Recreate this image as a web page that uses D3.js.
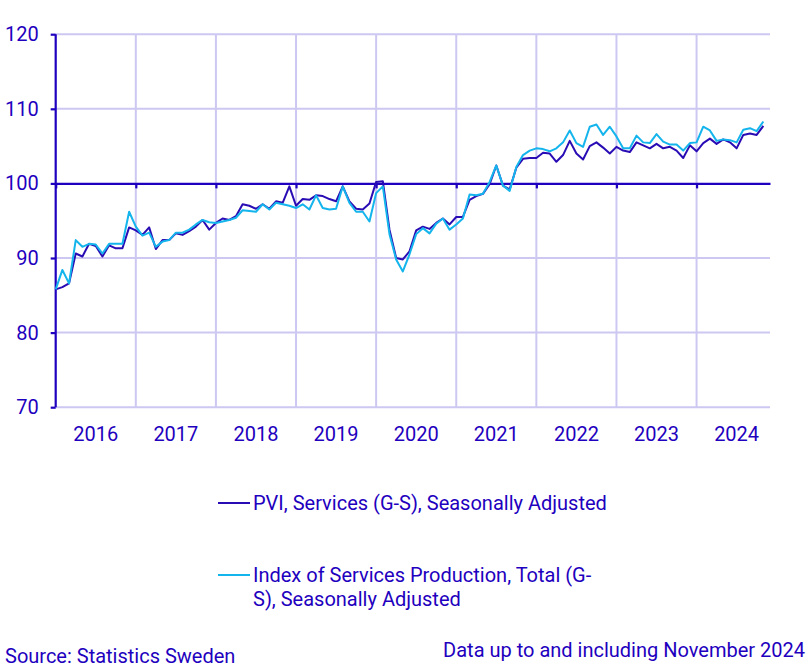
<!DOCTYPE html>
<html>
<head>
<meta charset="utf-8">
<script src="https://cdn.jsdelivr.net/npm/d3@7"></script>
<style>
  body { margin: 0; background: #fff; }
  svg text { font-family: Roboto, "Noto Sans", sans-serif; fill: #1e00be; }
</style>
</head>
<body>
<div id="chart"></div>
<script>
// DATA (monthly, Jan 2016 - Nov 2024)
// ---------------------------------------------------------------------------------------------------------------------------------
const years = ["2016", "2017", "2018", "2019", "2020", "2021", "2022", "2023", "2024"];
const yTicks = [70, 80, 90, 100, 110, 120];

const pviServices = [
  85.8, 86.1, 86.6, 90.6, 90.2, 91.9, 91.6, 90.2, 91.7, 91.3, 91.3, 94.1,
  93.7, 93.1, 94.1, 91.2, 92.4, 92.4, 93.3, 93.1, 93.6, 94.2, 95.1, 93.8,
  94.7, 95.3, 95.1, 95.6, 97.2, 97.0, 96.6, 97.2, 96.6, 97.6, 97.4, 99.6,
  97.0, 97.9, 97.8, 98.4, 98.3, 97.9, 97.6, 99.6, 97.6, 96.6, 96.5, 97.3,
  100.2, 100.3, 93.8, 90.0, 89.8, 90.9, 93.7, 94.2, 93.9, 94.7, 95.3, 94.5,
  95.5, 95.5, 97.8, 98.3, 98.6, 99.9, 102.4, 99.7, 99.2, 102.1, 103.3, 103.4,
  103.4, 104.1, 104.0, 102.9, 103.8, 105.7, 104.0, 103.2, 105.0, 105.5, 104.8, 104.0,
  104.9, 104.4, 104.2, 105.5, 105.1, 104.7, 105.3, 104.7, 104.9, 104.4, 103.4, 105.1,
  104.3, 105.4, 106.0, 105.3, 105.9, 105.5, 104.7, 106.5, 106.7, 106.5, 107.7
];

const ispTotal = [
  85.8, 88.4, 86.6, 92.4, 91.5, 91.9, 91.8, 90.6, 91.9, 91.9, 91.9, 96.2,
  94.2, 93.0, 93.4, 91.5, 92.2, 92.4, 93.4, 93.4, 93.8, 94.5, 95.1, 94.8,
  94.7, 94.9, 95.1, 95.4, 96.4, 96.3, 96.2, 97.2, 96.5, 97.4, 97.2, 97.0,
  96.7, 97.2, 96.5, 98.4, 96.7, 96.5, 96.6, 99.6, 97.4, 96.2, 96.2, 94.9,
  98.7, 99.6, 93.2, 89.8, 88.2, 90.5, 93.2, 94.0, 93.3, 94.6, 95.3, 93.8,
  94.5, 95.3, 98.5, 98.4, 98.6, 100.2, 102.4, 99.7, 99.0, 102.2, 103.8, 104.4,
  104.7, 104.6, 104.3, 104.7, 105.5, 107.1, 105.4, 104.9, 107.6, 107.9, 106.5, 107.6,
  106.3, 104.7, 104.7, 106.4, 105.5, 105.4, 106.6, 105.6, 105.2, 105.2, 104.4, 105.4,
  105.5, 107.6, 107.1, 105.7, 105.9, 105.8, 105.5, 107.2, 107.4, 107.0, 108.3
];

const seriesNames = [
  ["PVI, Services (G-S), Seasonally Adjusted"],
  ["Index of Services Production, Total (G-", "S), Seasonally Adjusted"]
];
const seriesColors = ["#2a0cb4", "#14b4ec"];

// SCALES
// ---------------------------------------------------------------------------------------------------------------------------------
const W = 810, H = 671;
const nMonths = years.length * 12;
const x = d3.scaleLinear([0, nMonths - 1], [55.7, 770]);
const y = d3.scaleLinear([70, 120], [407.2, 34.2]);

const svg = d3.select("#chart").append("svg")
  .attr("width", W)
  .attr("height", H);

// GRIDLINES
// ---------------------------------------------------------------------------------------------------------------------------------
const grid = svg.append("g");
grid.selectAll("line.h")
  .data(yTicks.filter(d => d !== 100))
  .enter().append("line")
  .attr("x1", x(0)).attr("x2", x.range()[1])
  .attr("y1", d => y(d)).attr("y2", d => y(d))
  .attr("stroke", "#cdc8f2")
  .attr("stroke-width", 2);

grid.selectAll("line.v")
  .data(d3.range(1, years.length))
  .enter().append("line")
  .attr("x1", d => x(d * 12)).attr("x2", d => x(d * 12))
  .attr("y1", y(120)).attr("y2", y(70))
  .attr("stroke", "#cdc8f2")
  .attr("stroke-width", 2);

// AXES
// ---------------------------------------------------------------------------------------------------------------------------------
const axisColor = "#1e00be";

// x axis drawn at 100, ticks pointing down at year boundaries
const xAxis = svg.append("g")
  .attr("transform", `translate(0,${y(100)})`)
  .call(d3.axisBottom(x)
    .tickValues(d3.range(0, nMonths, 12))
    .tickSizeInner(5)
    .tickSizeOuter(0)
    .tickFormat(""));
xAxis.select(".domain").attr("stroke", axisColor).attr("stroke-width", 2.2);
xAxis.selectAll(".tick line").attr("stroke", axisColor).attr("stroke-width", 2.2);

const yAxis = svg.append("g")
  .attr("transform", `translate(${x(0)},0)`)
  .call(d3.axisLeft(y).tickValues(yTicks).tickSize(5).tickPadding(12));
yAxis.select(".domain").attr("stroke", axisColor).attr("stroke-width", 2.2)
  .attr("d", `M0,${y(120)}V${y(70)}`);
yAxis.selectAll(".tick line").attr("stroke", axisColor).attr("stroke-width", 2.2);
yAxis.selectAll(".tick text")
  .style("font-size", "20px")
  .attr("fill", axisColor);

// year labels, centred in each year
svg.selectAll("text.year")
  .data(years)
  .enter().append("text")
  .attr("class", "year")
  .attr("x", (d, i) => x(i * 12 + 6))
  .attr("y", 441)
  .attr("text-anchor", "middle")
  .style("font-size", "20px")
  .text(d => d);

// LINES
// ---------------------------------------------------------------------------------------------------------------------------------
const line = d3.line()
  .x((d, i) => x(i))
  .y(d => y(d));

[pviServices, ispTotal].forEach((s, k) => {
  svg.append("path")
    .datum(s)
    .attr("fill", "none")
    .attr("stroke", seriesColors[k])
    .attr("stroke-width", 2)
    .attr("stroke-linejoin", "round")
    .attr("d", line);
});

// LEGEND
// ---------------------------------------------------------------------------------------------------------------------------------
const legendY = [503, 575];
seriesNames.forEach((lines, k) => {
  svg.append("line")
    .attr("x1", 218).attr("x2", 250)
    .attr("y1", legendY[k]).attr("y2", legendY[k])
    .attr("stroke", seriesColors[k])
    .attr("stroke-width", 2);
  lines.forEach((t, j) => {
    svg.append("text")
      .attr("x", 253)
      .attr("y", legendY[k] + 7 + j * 24)
      .style("font-size", "20px")
      .text(t);
  });
});

// FOOTER
// ---------------------------------------------------------------------------------------------------------------------------------
svg.append("text")
  .attr("x", 5)
  .attr("y", 663)
  .style("font-size", "20px")
  .text("Source: Statistics Sweden");

svg.append("text")
  .attr("x", 805)
  .attr("y", 657)
  .attr("text-anchor", "end")
  .style("font-size", "20px")
  .text("Data up to and including November 2024");
</script>
</body>
</html>
